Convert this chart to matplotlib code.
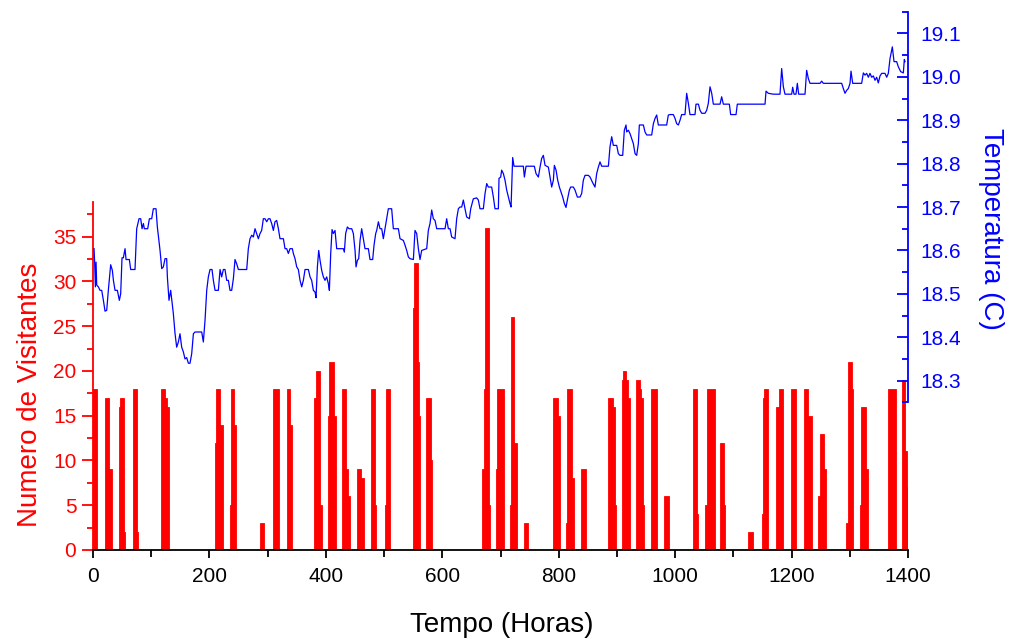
import matplotlib.pyplot as plt
from matplotlib.ticker import MultipleLocator

plt.rcParams['font.family'] = ['Liberation Sans', 'DejaVu Sans']

# visitantes: inicio do bloco (hora), duracao (h), numero de visitantes
seg_start = [0, 21, 27, 45, 47, 53, 69, 75, 117, 123, 127,
             210, 212, 218, 235, 237, 243, 287, 309, 333, 339,
             380, 383, 390, 403, 406, 414, 428, 435, 438, 453, 460,
             477, 484, 501, 503, 550, 552, 558, 560, 572, 580,
             669, 671, 673, 680, 692, 694, 716, 718, 724, 740,
             791, 798, 813, 815, 822, 838, 885, 894, 897,
             908, 910, 915, 919, 933, 939, 942, 945, 958, 981,
             1031, 1038, 1052, 1054, 1077, 1084, 1126, 1149, 1151, 1153,
             1173, 1179, 1199, 1221, 1229, 1245, 1248, 1255,
             1293, 1297, 1303, 1317, 1320, 1327, 1365, 1389, 1395, 1398]
seg_hours = [7, 6, 5, 2, 6, 2, 6, 2, 6, 4, 3,
             2, 6, 5, 2, 6, 2, 7, 11, 6, 2,
             3, 7, 3, 3, 8, 3, 7, 3, 3, 7, 5,
             7, 2, 2, 7, 2, 6, 2, 1, 8, 2,
             2, 2, 7, 2, 2, 12, 2, 6, 5, 8,
             7, 4, 2, 7, 4, 8, 9, 3, 2,
             2, 5, 4, 3, 6, 3, 3, 1, 11, 8,
             7, 2, 2, 14, 7, 2, 7, 2, 2, 7,
             6, 7, 8, 8, 6, 3, 7, 4,
             4, 6, 2, 3, 7, 4, 14, 6, 3, 3]
seg_count = [18, 17, 9, 16, 17, 2, 18, 2, 18, 17, 16,
             12, 18, 14, 5, 18, 14, 3, 18, 18, 14,
             17, 20, 5, 15, 21, 15, 18, 9, 6, 9, 8,
             18, 5, 5, 18, 27, 32, 21, 15, 17, 10,
             9, 18, 36, 5, 9, 18, 5, 26, 12, 3,
             17, 15, 3, 18, 8, 9, 17, 16, 5,
             19, 20, 19, 17, 19, 18, 17, 5, 18, 6,
             18, 4, 5, 18, 12, 5, 2, 4, 17, 18,
             16, 18, 18, 18, 15, 6, 13, 9,
             3, 21, 18, 5, 16, 9, 18, 19, 11, 7]

# temperatura (C) ao longo do tempo (horas)
temp_hour = [1.7, 2.9, 4.0, 5.2, 6.3, 9.2, 12.0, 14.9, 17.8, 20.6, 23.5, 26.3, 30.3, 33.2, 35.0,
             37.8, 41.8, 45.2, 47.5, 49.8, 52.1, 55.0, 56.7, 62.4, 64.7, 72.1, 75.0, 79.0, 81.9,
             84.2, 86.5, 88.2, 93.9, 96.8, 100.8, 103.6, 108.2, 110.5, 112.8, 115.1, 118.0, 120.8,
             123.7, 126.5, 127.7, 130.5, 133.4, 135.7, 138.0, 140.9, 143.7, 146.6, 149.4, 152.3,
             155.2, 158.0, 160.9, 163.8, 166.6, 169.5, 172.4, 175.2, 186.7, 189.5, 192.4, 195.3,
             198.1, 201.0, 204.4, 206.7, 209.6, 215.3, 218.2, 221.0, 223.9, 226.7, 229.6, 232.5,
             235.3, 238.2, 241.1, 243.9, 246.8, 249.7, 264.0, 266.8, 269.7, 272.6, 275.4, 278.3,
             281.1, 284.0, 286.9, 289.7, 292.6, 295.5, 298.3, 301.2, 304.0, 306.9, 309.8, 312.6,
             315.5, 318.4, 321.2, 327.0, 329.8, 332.7, 335.5, 338.4, 342.4, 344.1, 347.0, 349.9,
             352.7, 355.6, 358.5, 361.3, 364.2, 369.9, 372.8, 375.6, 378.5, 381.4, 383.1, 385.4,
             387.7, 390.0, 392.8, 395.7, 398.5, 401.4, 404.3, 406.0, 408.3, 410.6, 412.8, 415.7,
             418.6, 430.0, 431.7, 434.0, 436.9, 439.8, 444.4, 447.2, 450.1, 451.8, 454.1, 456.4,
             458.7, 461.5, 464.4, 467.2, 473.0, 475.8, 480.4, 482.7, 485.6, 487.3, 490.2, 493.0,
             495.9, 498.7, 501.6, 504.5, 507.3, 513.0, 515.9, 524.5, 527.4, 533.1, 536.0, 538.8,
             541.7, 544.5, 550.3, 553.1, 556.0, 558.9, 561.7, 564.6, 573.2, 576.0, 578.9, 581.8,
             584.6, 587.5, 590.4, 593.2, 604.7, 607.5, 610.4, 613.3, 616.1, 621.8, 624.7, 627.6,
             630.4, 633.3, 636.2, 639.0, 641.9, 646.5, 648.8, 653.3, 659.1, 661.9, 664.8, 670.5,
             673.4, 676.3, 679.1, 684.8, 687.7, 690.5, 696.3,
             697.4, 700.3, 702.0, 704.9, 707.7, 710.6, 713.5, 716.3, 718.1, 720.9, 723.2, 739.2,
             741.0, 743.8, 758.1, 761.0, 765.0, 767.9, 770.7, 773.6, 776.5, 782.2, 785.0, 787.9,
             790.8, 792.5, 795.4, 798.2, 801.1, 803.9, 806.8, 809.7, 812.5, 814.8, 818.3, 820.5,
             825.1, 828.0, 832.0, 836.6, 839.4, 842.3, 845.2, 850.9, 853.8, 858.3, 862.3, 865.2,
             868.1, 870.9, 873.8, 885.3, 888.1, 891.0, 893.8, 899.6, 902.4, 905.3, 909.9, 912.7,
             915.6, 916.7, 919.6, 922.5, 925.3, 928.2, 931.1, 933.9, 936.8, 938.5, 945.4, 948.2,
             951.1, 959.7, 962.6, 965.4, 968.3, 971.1, 985.4, 988.3, 991.2, 996.9, 999.8, 1002.6,
             1005.5, 1008.4, 1011.2, 1016.9, 1019.8, 1022.7, 1025.5, 1034.1, 1035.8, 1039.9,
             1042.7, 1045.6, 1051.3, 1054.2, 1057.0, 1059.9, 1062.8, 1065.6, 1077.1, 1079.9,
             1082.8, 1093.1, 1095.4, 1104.6, 1106.8, 1154.4, 1156.1, 1160.1, 1168.7, 1180.1,
             1183.0, 1185.9, 1188.7, 1200.2, 1201.9, 1204.2, 1207.6, 1209.9, 1212.2, 1223.1,
             1225.9, 1228.8, 1231.7, 1248.9, 1251.7, 1254.6, 1286.1, 1288.9, 1291.8, 1294.7,
             1297.5, 1300.4, 1302.1, 1305.0, 1320.4, 1323.3, 1326.2, 1329.0, 1331.9, 1334.7,
             1337.6, 1340.5, 1343.3, 1346.2, 1349.0, 1351.9, 1354.8, 1360.5, 1363.4, 1366.2,
             1369.1, 1373.1, 1376.0, 1380.5, 1383.4, 1387.4, 1392.0, 1393.7, 1394.9]
temp_value = [18.604, 18.569, 18.516, 18.573, 18.520, 18.516, 18.508, 18.508, 18.485, 18.460, 18.462,
              18.508, 18.567, 18.554, 18.531, 18.508, 18.508, 18.485, 18.500, 18.583, 18.583, 18.604,
              18.579, 18.579, 18.556, 18.556, 18.650, 18.673, 18.673, 18.650, 18.662, 18.650, 18.650,
              18.673, 18.673, 18.696, 18.696, 18.654, 18.627, 18.600, 18.558, 18.562, 18.581, 18.581,
              18.539, 18.485, 18.508, 18.481, 18.454, 18.408, 18.377, 18.389, 18.408, 18.377, 18.366,
              18.350, 18.353, 18.340, 18.340, 18.362, 18.408, 18.412, 18.412, 18.389, 18.439, 18.508,
              18.539, 18.556, 18.556, 18.531, 18.508, 18.508, 18.556, 18.539, 18.556, 18.556, 18.531,
              18.531, 18.508, 18.508, 18.535, 18.579, 18.569, 18.556, 18.556, 18.604, 18.627, 18.635,
              18.631, 18.650, 18.639, 18.627, 18.639, 18.646, 18.673, 18.673, 18.666, 18.673, 18.673,
              18.662, 18.646, 18.666, 18.669, 18.650, 18.627, 18.627, 18.604, 18.604, 18.593, 18.604,
              18.604, 18.593, 18.581, 18.562, 18.556, 18.531, 18.516, 18.531, 18.556, 18.556, 18.539,
              18.531, 18.508, 18.504, 18.491, 18.562, 18.600, 18.577, 18.554, 18.539, 18.531, 18.539,
              18.523, 18.508, 18.593, 18.648, 18.639, 18.646, 18.604, 18.604, 18.596, 18.639, 18.654,
              18.650, 18.650, 18.639, 18.600, 18.562, 18.577, 18.581, 18.623, 18.650, 18.627, 18.604,
              18.604, 18.579, 18.579, 18.612, 18.639, 18.646, 18.666, 18.650, 18.650, 18.627, 18.650,
              18.673, 18.696, 18.696, 18.650, 18.650, 18.627, 18.623, 18.612, 18.600, 18.585, 18.581,
              18.579, 18.646, 18.639, 18.604, 18.579, 18.600, 18.604, 18.646, 18.662, 18.693, 18.673,
              18.669, 18.650, 18.650, 18.650, 18.673, 18.650, 18.650, 18.631, 18.627, 18.673, 18.696,
              18.700, 18.700, 18.716, 18.696, 18.677, 18.673, 18.696, 18.719, 18.721, 18.716, 18.696,
              18.696, 18.731, 18.754, 18.746, 18.746, 18.723, 18.696, 18.696,
              18.766, 18.769, 18.785, 18.777, 18.762, 18.739, 18.723, 18.708, 18.700, 18.814, 18.794,
              18.794, 18.769, 18.794, 18.794, 18.777, 18.769, 18.792, 18.812, 18.819, 18.796, 18.792,
              18.769, 18.746, 18.762, 18.796, 18.785, 18.762, 18.746, 18.735, 18.723, 18.708, 18.699,
              18.716, 18.739, 18.746, 18.746, 18.739, 18.723, 18.723, 18.731, 18.762, 18.773, 18.773,
              18.769, 18.756, 18.746, 18.777, 18.792, 18.804, 18.794, 18.794, 18.839, 18.862, 18.842,
              18.842, 18.823, 18.819, 18.819, 18.877, 18.889, 18.873, 18.877, 18.869, 18.858, 18.846,
              18.823, 18.819, 18.846, 18.889, 18.889, 18.873, 18.866, 18.866, 18.892, 18.904, 18.912,
              18.889, 18.889, 18.912, 18.913, 18.913, 18.904, 18.892, 18.889, 18.900, 18.913, 18.913,
              18.962, 18.939, 18.913, 18.913, 18.937, 18.937, 18.923, 18.916, 18.916, 18.923, 18.939,
              18.977, 18.962, 18.937, 18.937, 18.954, 18.937, 18.937, 18.913, 18.913, 18.937, 18.937,
              18.967, 18.962, 18.960, 18.960, 19.019, 18.977, 18.960, 18.960, 18.976, 18.960, 18.960,
              18.985, 18.960, 18.960, 19.015, 18.996, 18.985, 18.985, 18.990, 18.985, 18.985, 18.973,
              18.962, 18.969, 18.973, 18.985, 19.013, 18.985, 18.985, 19.009, 19.004, 19.008, 18.999,
              19.008, 18.999, 19.002, 18.992, 18.999, 18.986, 19.002, 19.008, 19.008, 18.999, 19.008,
              19.042, 19.069, 19.035, 19.035, 19.023, 19.012, 19.009, 19.040, 19.035]

red = '#ff0000'
blue = '#0000ff'

fig = plt.figure(figsize=(10.09, 6.44), dpi=100)
ax1 = fig.add_axes([0.0922, 0.146, 0.8077, 0.5408])
ax2 = fig.add_axes([0.0922, 0.3753, 0.8077, 0.6065])
ax2.patch.set_visible(False)

# barras de visitantes
ax1.bar(seg_start, seg_count, width=seg_hours, align='edge', color=red,
        edgecolor=red, linewidth=0.6)
ax1.set_xlim(0, 1400)
ax1.set_ylim(0, 38.9)
for s in ['top', 'right']:
    ax1.spines[s].set_visible(False)
ax1.spines['left'].set_color(red)
ax1.spines['left'].set_linewidth(1.3)
ax1.spines['bottom'].set_linewidth(1.3)
ax1.xaxis.set_major_locator(MultipleLocator(200))
ax1.xaxis.set_minor_locator(MultipleLocator(100))
ax1.yaxis.set_major_locator(MultipleLocator(5))
ax1.yaxis.set_minor_locator(MultipleLocator(2.5))
ax1.tick_params(axis='x', which='major', length=6, width=1.3, labelsize=15, pad=6)
ax1.tick_params(axis='x', which='minor', length=5, width=1.3)
ax1.tick_params(axis='y', which='major', length=8, width=1.3, color=red,
                labelcolor=red, labelsize=15, pad=4)
ax1.tick_params(axis='y', which='minor', length=4.5, width=1.3, color=red)
ax1.set_xlabel('Tempo (Horas)', fontsize=20, va='center')
ax1.xaxis.set_label_coords(0.502, -0.215)
ax1.set_ylabel('Numero de Visitantes', fontsize=20, color=red, va='center')
ax1.yaxis.set_label_coords(-0.077, 0.445)

# temperatura
ax2.plot(temp_hour, temp_value, color=blue, linewidth=0.9)
ax2.set_xlim(0, 1400)
ax2.set_ylim(18.25, 19.15)
for s in ['top', 'left', 'bottom']:
    ax2.spines[s].set_visible(False)
ax2.spines['right'].set_color(blue)
ax2.spines['right'].set_linewidth(1.3)
ax2.set_xticks([])
ax2.yaxis.tick_right()
ax2.yaxis.set_major_locator(MultipleLocator(0.1))
ax2.yaxis.set_minor_locator(MultipleLocator(0.05))
ax2.tick_params(axis='y', which='major', direction='in', length=8, width=1.3,
                color=blue, labelcolor=blue, labelsize=15, pad=9)
ax2.tick_params(axis='y', which='minor', direction='in', length=4.5, width=1.3, color=blue)
ax2.yaxis.set_major_formatter('{x:.1f}')
ax2.set_yticks([18.3, 18.4, 18.5, 18.6, 18.7, 18.8, 18.9, 19.0, 19.1])
ax2.yaxis.set_label_position('right')
ax2.set_ylabel('Temperatura (C)', fontsize=20, color=blue, rotation=-90, va='center')
ax2.yaxis.set_label_coords(1.102, 0.444)

fig.savefig('out.png', dpi=100)
